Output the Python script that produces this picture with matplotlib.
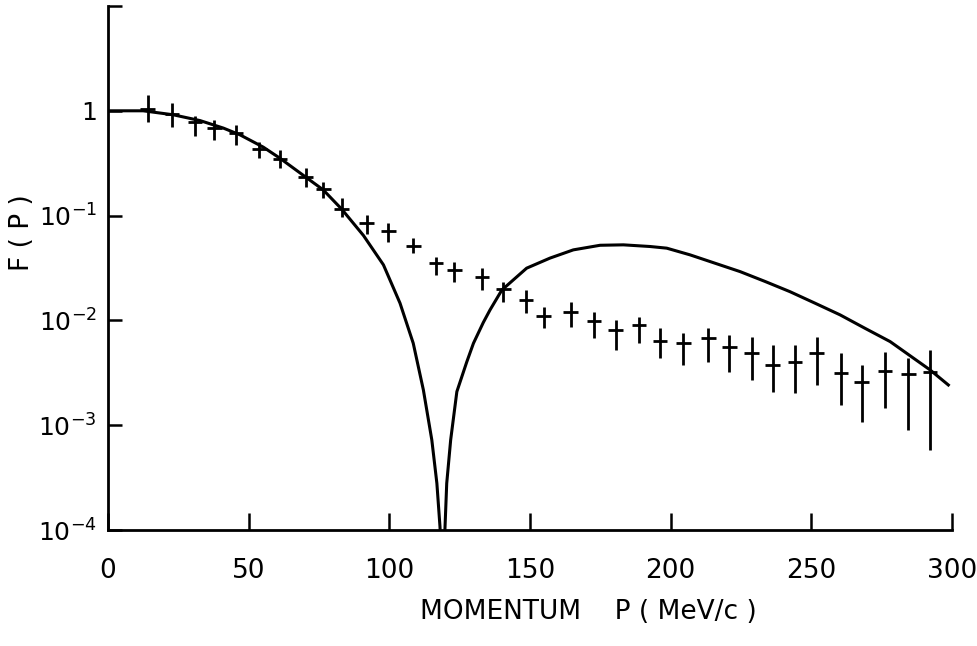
import matplotlib
matplotlib.use("Agg")
import matplotlib.pyplot as plt

# Measured data points (momentum MeV/c, F(P)) with lower/upper error-bar ends
p_data = [14.1, 22.7, 30.9, 37.8, 45.5, 53.8, 61.2, 70.3, 76.5, 83.1,
          91.9, 99.6, 108.5, 116.6, 123.1, 132.9, 140.5, 148.6, 154.8, 164.4,
          172.8, 180.5, 188.8, 196.2, 204.5, 213.4, 220.9, 228.8, 236.3, 244.2,
          251.9, 260.5, 267.9, 276.2, 284.5, 292.2]
f_data = [1.04, 0.93, 0.79, 0.69, 0.61, 0.43, 0.35, 0.236, 0.179, 0.116,
          0.0857, 0.0714, 0.0518, 0.0352, 0.0303, 0.0262, 0.0199, 0.0157, 0.0110, 0.0119,
          0.00989, 0.0081, 0.00906, 0.0064, 0.00614, 0.00676, 0.00562, 0.00492, 0.00376, 0.00404,
          0.00486, 0.00318, 0.00261, 0.00332, 0.00308, 0.00324]
f_hi = [1.42, 1.18, 0.896, 0.821, 0.735, 0.509, 0.424, 0.284, 0.211, 0.147,
        0.1017, 0.0847, 0.0609, 0.0406, 0.0364, 0.0315, 0.0235, 0.0195, 0.01355, 0.0151,
        0.0121, 0.0101, 0.01087, 0.00843, 0.00755, 0.00843, 0.00727, 0.00701, 0.00583, 0.00583,
        0.00701, 0.00486, 0.00376, 0.00504, 0.00436, 0.00523]
f_lo = [0.79, 0.708, 0.577, 0.529, 0.473, 0.353, 0.284, 0.189, 0.147, 0.0967,
        0.0670, 0.0565, 0.0438, 0.0272, 0.0235, 0.0195, 0.0151, 0.0117, 0.00848, 0.00873,
        0.00676, 0.00523, 0.00606, 0.00436, 0.00376, 0.00404, 0.00324, 0.0027, 0.00209, 0.00202,
        0.00242, 0.00156, 0.00108, 0.00145, 0.0009, 0.00058]
p_halfwidth = 2.6

# Theoretical curve
p_curve = [0, 12.5, 23.2, 32.7, 41.0, 46.9, 55.2, 61.1, 70.0, 76.5,
           83.1, 90.8, 97.9, 103.8, 108.5, 112.1, 115.1, 116.9, 118.0, 119.0,
           119.8, 120.4, 121.8, 124.0, 127.5, 129.9, 133.4, 135.8, 140.0, 148.8,
           157.1, 165.4, 174.9, 183.2, 192.7, 198.6, 206.9, 215.8, 224.7, 233.6,
           242.4, 251.3, 260.2, 269.1, 278.0, 292.2, 298.7]
f_curve = [1.0, 1.0, 0.916, 0.807, 0.684, 0.590, 0.450, 0.353, 0.236, 0.176,
           0.115, 0.0646, 0.0339, 0.0146, 0.00605, 0.00217, 0.000723, 0.000279, 0.000108, 0.00003,
           0.000108, 0.000279, 0.000723, 0.00209, 0.0040, 0.00605, 0.00955, 0.0126, 0.0195, 0.0315,
           0.0393, 0.0471, 0.0521, 0.0526, 0.0507, 0.0489, 0.0422, 0.0351, 0.0292, 0.0235,
           0.0188, 0.0146, 0.0113, 0.0084, 0.00628, 0.00337, 0.00242]

x_ticks = [0, 50, 100, 150, 200, 250, 300]
y_ticks = [1e-4, 1e-3, 1e-2, 1e-1, 1, 10]
y_ticklabels = [r'$10^{-4}$', r'$10^{-3}$', r'$10^{-2}$', r'$10^{-1}$', '1', '']

plt.rcParams['font.family'] = ['DejaVu Sans']
plt.rcParams['mathtext.fontset'] = 'dejavusans'

fig = plt.figure(figsize=(9.78, 6.46), dpi=100)
ax = fig.add_axes([108/978, 1 - 530/646, (952 - 108)/978, (530 - 6)/646])

ax.plot(p_curve, f_curve, color='black', lw=2.2, solid_joinstyle='round')

yerr_low = [c - l for c, l in zip(f_data, f_lo)]
yerr_high = [h - c for c, h in zip(f_data, f_hi)]
ax.errorbar(p_data, f_data, xerr=p_halfwidth, yerr=[yerr_low, yerr_high],
            fmt='none', ecolor='black', elinewidth=2.0, capsize=0)

ax.set_yscale('log')
ax.set_xlim(0, 300)
ax.set_ylim(1e-4, 10)

ax.set_xticks(x_ticks)
ax.set_xticklabels([str(t) for t in x_ticks])
ax.set_yticks(y_ticks)
ax.set_yticklabels(y_ticklabels)
ax.yaxis.set_minor_locator(matplotlib.ticker.NullLocator())

ax.tick_params(axis='x', direction='in', length=12, width=1.8, pad=20, labelsize=19)
ax.tick_params(axis='y', direction='in', length=10, width=1.8, pad=8, labelsize=18)

for s in ['top', 'right']:
    ax.spines[s].set_visible(False)
for s in ['left', 'bottom']:
    ax.spines[s].set_linewidth(2.0)

fig.text(588/978, 1 - 612/646, 'MOMENTUM    P ( MeV/c )', ha='center', va='center', fontsize=19)
fig.text(22/978, 1 - 233/646, 'F ( P )', ha='center', va='center', rotation=90, fontsize=19)

fig.savefig('out.png', dpi=100)
